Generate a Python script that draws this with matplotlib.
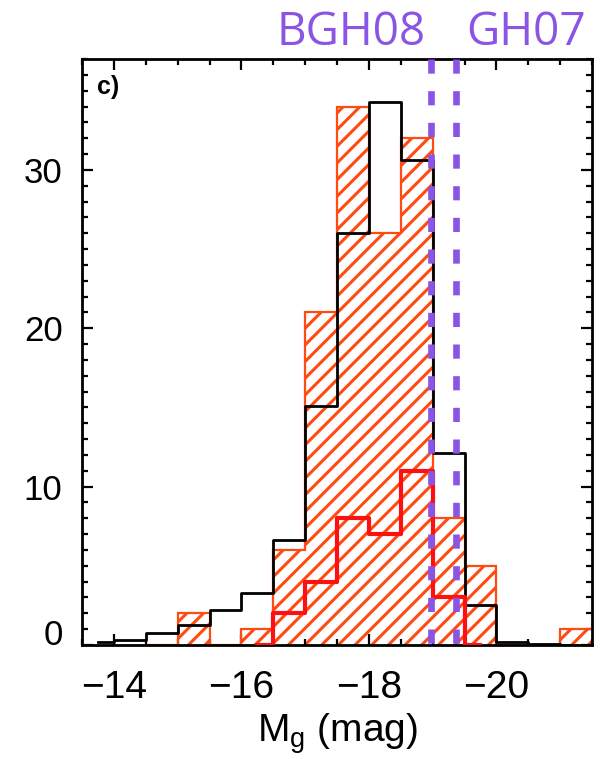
import matplotlib
matplotlib.use("Agg")
import matplotlib.pyplot as plt
from matplotlib.ticker import MultipleLocator, FixedLocator

# Bin centres (mag) and counts for each sample, 0.5 mag bins
black_centers = [-13.75, -14.25, -14.75, -15.25, -15.75, -16.25, -16.75, -17.25,
                 -17.75, -18.25, -18.75, -19.25, -19.75, -20.25, -20.75, -21.25]
black_counts = [0.17, 0.32, 0.74, 1.24, 2.2, 3.26, 6.6, 15.1,
                26.0, 34.3, 30.6, 12.1, 2.5, 0.21, 0.05, 0.0]

orange_centers = [-14.75, -15.25, -15.75, -16.25, -16.75, -17.25, -17.75,
                  -18.25, -18.75, -19.25, -19.75, -20.25, -20.75, -21.25]
orange_counts = [0, 2, 0, 1, 6, 21, 34, 26, 32, 8, 5, 0, 0, 1]

red_centers = [-16.25, -16.75, -17.25, -17.75, -18.25, -18.75, -19.25, -19.75]
red_counts = [0, 2, 4, 8, 7, 11, 3, 0]

# Reference magnitude limits
limit_names = ["BGH08", "GH07"]
limit_mags = [-18.98, -19.37]

x_major = [-14, -16, -18, -20]
y_major = [0, 10, 20, 30]

ORANGE = "#FF4A12"
RED = "#FF1010"
PURPLE = "#8A55E4"

plt.rcParams["font.family"] = ["Liberation Sans", "DejaVu Sans"]
plt.rcParams["mathtext.fontset"] = "custom"
plt.rcParams["mathtext.rm"] = "Liberation Sans"
plt.rcParams["hatch.linewidth"] = 2.2
plt.rcParams["lines.scale_dashes"] = False

fig = plt.figure(figsize=(6.06, 7.59), dpi=100)
ax = fig.add_axes([82 / 606, 1 - 645 / 759, 510 / 606, 586 / 759])

# Hatched histogram with its outline
bw = 0.5
ax.bar(orange_centers, orange_counts, width=bw, facecolor="none",
       edgecolor=ORANGE, linewidth=0, hatch="//", zorder=1)
edges = [orange_centers[0] + bw / 2] + [c - bw / 2 for c in orange_centers]
ax.stairs(orange_counts, edges, baseline=None, color=ORANGE, linewidth=1.6, zorder=2)

ax.step(black_centers, black_counts, where="mid", color="black", linewidth=2.0, zorder=3)
ax.step(red_centers, red_counts, where="mid", color=RED, linewidth=3.0, zorder=4)

ymax = 37
for m in limit_mags:
    ax.plot([m, m], [ymax, 0], color=PURPLE, linewidth=4.8,
            dashes=(10.2, 12.6), dash_capstyle="butt", zorder=5, clip_on=False)

ax.set_xlim(-13.5, -21.5)
ax.set_ylim(0, ymax)

ax.xaxis.set_major_locator(FixedLocator(x_major))
ax.xaxis.set_minor_locator(MultipleLocator(0.5))
ax.yaxis.set_major_locator(FixedLocator(y_major))
ax.yaxis.set_minor_locator(MultipleLocator(1))
ax.set_xticklabels(["\u2212" + str(abs(v)) for v in x_major], fontsize=28)
ax.set_yticklabels([str(v) for v in y_major], fontsize=25)
for lbl in ax.get_yticklabels():
    if lbl.get_text() == "0":
        lbl.set_verticalalignment("baseline")

ax.tick_params(which="both", direction="in", top=True, right=True, width=1.6)
ax.tick_params(which="major", length=8)
ax.tick_params(which="minor", length=4)
ax.tick_params(axis="x", pad=18)
ax.tick_params(axis="y", pad=14)
for s in ax.spines.values():
    s.set_linewidth(2.0)

ax.set_xlabel(r"M$_\mathrm{g}$ (mag)", fontsize=28, labelpad=4)
ax.text(0.029, 0.972, "c)", transform=ax.transAxes, fontsize=18,
        fontweight="bold", ha="left", va="top")

label_x = [351, 526]
for name, xp in zip(limit_names, label_x):
    fig.text(xp / 606, 1 - 45 / 759, name, color=PURPLE, fontsize=33,
             family="Open Sans", ha="center", va="baseline")

fig.savefig("out.png", dpi=100)
